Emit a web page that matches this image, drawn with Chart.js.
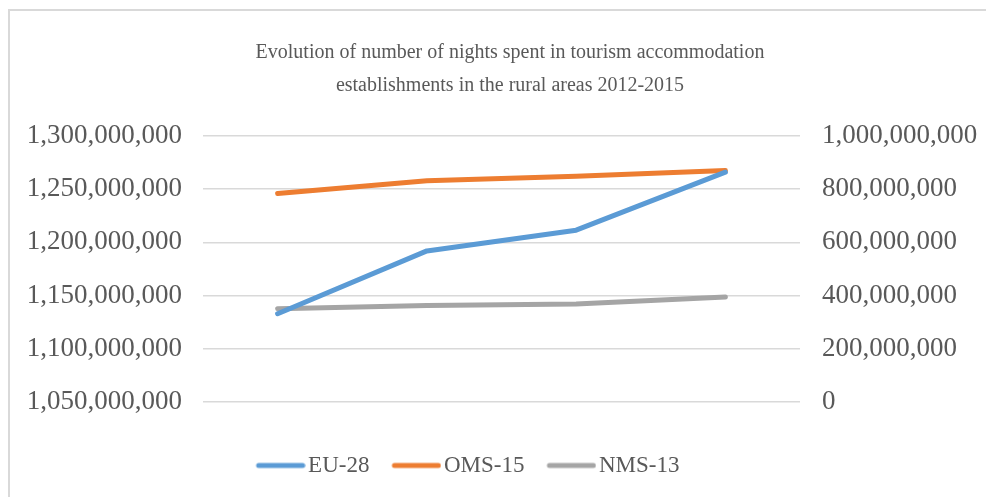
<!DOCTYPE html>
<html>
<head>
<meta charset="utf-8">
<script src="https://cdn.jsdelivr.net/npm/chart.js@4/dist/chart.umd.min.js"></script>
<style>
  html, body { margin: 0; padding: 0; background: #fff; }
  #frame { position: absolute; left: 8px; top: 9px; width: 1000px; height: 500px;
           border: 2px solid #d9d9d9; box-sizing: border-box; }
  #wrap { position: absolute; left: 0; top: 0; width: 986px; height: 497px; }
</style>
</head>
<body>
<div id="frame"></div>
<div id="wrap"><canvas id="chart" width="986" height="497"></canvas></div>
<script>
// years (not shown as tick labels in the original)
const years = ['2012', '2013', '2014', '2015'];
// EU-28 on the left axis, the two groups on the right one
const eu28 = [1133000000, 1192000000, 1211500000, 1266000000];
const oms15 = [784000000, 832000000, 849000000, 870000000];
const nms13 = [351000000, 363000000, 368000000, 395000000];
const leftTicks = [1050000000, 1100000000, 1150000000, 1200000000, 1250000000, 1300000000];
const rightTicks = [0, 200000000, 400000000, 600000000, 800000000, 1000000000];

const txt = '#595959';
const serif = 'Liberation Serif, Times New Roman, serif';

// legend swatch: a short round-capped line sitting close to its label
function swatch(color) {
  const c = document.createElement('canvas');
  c.width = 64; c.height = 10;
  const g = c.getContext('2d');
  g.strokeStyle = color; g.lineWidth = 5; g.lineCap = 'round';
  g.beginPath(); g.moveTo(17, 5); g.lineTo(61, 5); g.stroke();
  return c;
}

function line(label, data, color, axis) {
  return {
    label: label, data: data, yAxisID: axis,
    borderColor: color, backgroundColor: color,
    borderWidth: 5, borderCapStyle: 'round', borderJoinStyle: 'round',
    pointRadius: 0, pointStyle: swatch(color), tension: 0, fill: false
  };
}

// nudge legend left and title right, like the original
const nudge = {
  id: 'nudge',
  afterLayout(chart) {
    const lg = chart.legend;
    if (lg) { lg.left -= 38; lg.right -= 38; }
    const tb = chart.titleBlock;
    if (tb) { tb.left += 7; tb.right += 7; }
  }
};

const ctx = document.getElementById('chart').getContext('2d');
new Chart(ctx, {
  type: 'line',
  data: {
    labels: years,
    datasets: [
      line('EU-28', eu28, '#5B9BD5', 'yL'),
      line('OMS-15', oms15, '#ED7D31', 'yR'),
      line('NMS-13', nms13, '#A5A5A5', 'yR')
    ]
  },
  plugins: [nudge],
  options: {
    responsive: false,
    animation: false,
    layout: { padding: { left: 27, right: 7, top: 36, bottom: 10 } },
    plugins: {
      title: {
        display: true,
        text: ['Evolution of number of nights spent in tourism accommodation',
               'establishments in the rural areas 2012-2015'],
        color: txt,
        font: { family: serif, size: 20, weight: 'normal', lineHeight: 1.65 },
        padding: { top: 0, bottom: 34 }
      },
      legend: {
        position: 'bottom',
        labels: {
          color: txt,
          font: { family: serif, size: 23 },
          usePointStyle: true,
          pointStyleWidth: 46,
          boxHeight: 10,
          padding: 17
        }
      },
      tooltip: { enabled: false }
    },
    scales: {
      x: {
        offset: true,
        grid: { display: false },
        border: { display: false },
        ticks: { display: false },
        afterFit: s => { s.height = 35; }
      },
      yL: {
        position: 'left',
        min: leftTicks[0], max: leftTicks[leftTicks.length - 1],
        afterBuildTicks: s => { s.ticks = leftTicks.map(v => ({ value: v })); },
        afterFit: s => { s.width = 176; },
        grid: { color: '#d9d9d9', lineWidth: 1.5, drawTicks: false },
        border: { display: false },
        ticks: {
          color: txt, padding: 21,
          font: { family: serif, size: 27 },
          callback: v => v.toLocaleString('en-US')
        }
      },
      yR: {
        position: 'right',
        min: rightTicks[0], max: rightTicks[rightTicks.length - 1],
        afterBuildTicks: s => { s.ticks = rightTicks.map(v => ({ value: v })); },
        afterFit: s => { s.width = 179; },
        grid: { drawOnChartArea: false, drawTicks: false },
        border: { display: false },
        ticks: {
          color: txt, padding: 22,
          font: { family: serif, size: 27 },
          callback: v => v.toLocaleString('en-US')
        }
      }
    }
  }
});
</script>
</body>
</html>
